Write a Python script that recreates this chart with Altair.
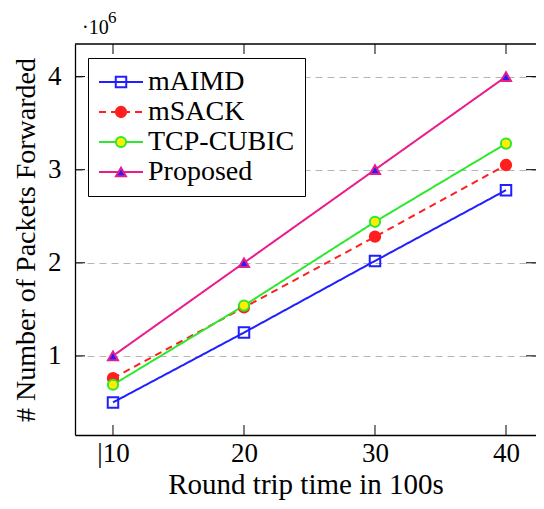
import altair as alt
import pandas as pd

# ---- data ----
rtt = [10, 20, 30, 40]
maimd = [500000, 1250000, 2020000, 2780000]
msack = [760000, 1520000, 2280000, 3050000]
cubic = [690000, 1540000, 2440000, 3280000]
proposed = [1000000, 2000000, 3000000, 4000000]
series_names = ["mAIMD", "mSACK", "TCP-CUBIC", "Proposed"]
y_ticks = [1000000, 2000000, 3000000, 4000000]

rows = []
for name, vals in zip(series_names, [maimd, msack, cubic, proposed]):
    for x, v in zip(rtt, vals):
        rows.append({"rtt": x, "packets": v, "series": name})
df = pd.DataFrame(rows)

# ---- styles ----
W, H = 461, 391
FONT = "Liberation Serif"
FS = 27
TFS = 29
line_colors = ["#1f1fff", "#ff1f1f", "#2ee82e", "#e81c8c"]
fills = ["transparent", "#ff1f1f", "#ffee00", "#1f1fff"]
strokes = ["#1f1fff", "#ff1f1f", "#2ee82e", "#e81c8c"]
shapes = ["square", "circle", "circle", "triangle-up"]
sizes = [110, 100, 240, 230]
dashes = [[1, 0], [7, 5], [1, 0], [1, 0]]

xs = alt.Scale(domain=[7.1, 42.29], nice=False)
ys = alt.Scale(domain=[150000, 4350000], nice=False)

common_leg = dict(
    title=None, orient="none", legendX=13, legendY=14, padding=10,
    labelFont=FONT, labelFontSize=28, labelColor="black", labelOffset=13,
    symbolSize=196, symbolStrokeWidth=2, symbolOffset=9, rowPadding=2,
    cornerRadius=0, values=series_names,
)
legend_lines = alt.Legend(
    fillColor="white", strokeColor="black", symbolType="M-3.14,0L3.14,0",
    zindex=0, **common_leg)
legend_marks = alt.Legend(labelOpacity=0, symbolFillColor="white", zindex=1, **common_leg)

# the line legend gets an extra (unused) domain entry so it stays separate
# from the marker legend, which is drawn over it
line_domain = series_names + ["~"]

x_axis = alt.Axis(
    values=rtt, labelExpr="datum.value == 10 ? '|10' : datum.label",
    grid=False, ticks=False, domain=True, domainColor="black", domainWidth=1.3,
    labelFont=FONT, labelFontSize=FS, labelColor="black", labelPadding=5,
    title="Round trip time in 100s", titleFont=FONT, titleFontSize=TFS,
    titleFontWeight="normal", titleColor="black", titlePadding=4,
)
y_axis = alt.Axis(
    values=y_ticks, labelExpr="format(datum.value / 1000000, 'd')",
    grid=True, gridDash=[7, 5], gridColor="#b5b5b5", gridWidth=1,
    ticks=False, domain=True, domainColor="black", domainWidth=1.3,
    labelFont=FONT, labelFontSize=FS, labelColor="black", labelPadding=14,
    title="# Number of Packets Forwarded", titleFont=FONT, titleFontSize=28,
    titleFontWeight="normal", titleColor="black", titlePadding=7,
)

base = alt.Chart(df)
lines = base.mark_line(strokeWidth=2).encode(
    x=alt.X("rtt:Q", scale=xs, axis=x_axis),
    y=alt.Y("packets:Q", scale=ys, axis=y_axis),
    color=alt.Color("series:N", scale=alt.Scale(domain=line_domain, range=line_colors + ["#000000"]),
                    legend=legend_lines),
    strokeDash=alt.StrokeDash("series:N", scale=alt.Scale(domain=line_domain, range=dashes + [[1, 0]]),
                              legend=legend_lines),
)
points = base.mark_point(opacity=1, strokeWidth=2).encode(
    x=alt.X("rtt:Q", scale=xs, axis=x_axis),
    y=alt.Y("packets:Q", scale=ys, axis=y_axis),
    shape=alt.Shape("series:N", scale=alt.Scale(domain=series_names, range=shapes), legend=legend_marks),
    fill=alt.Fill("series:N", scale=alt.Scale(domain=series_names, range=fills), legend=legend_marks),
    stroke=alt.Stroke("series:N", scale=alt.Scale(domain=series_names, range=strokes), legend=legend_marks),
    size=alt.Size("series:N", scale=alt.Scale(domain=series_names, range=sizes), legend=legend_marks),
)

xt = alt.Chart(pd.DataFrame({"rtt": rtt}))
yt = alt.Chart(pd.DataFrame({"packets": y_ticks}))
tick_top = xt.mark_rule(color="black", strokeWidth=1).encode(
    x=alt.X("rtt:Q", scale=xs, axis=x_axis), y=alt.value(0), y2=alt.value(10))
tick_bot = xt.mark_rule(color="black", strokeWidth=1).encode(
    x=alt.X("rtt:Q", scale=xs, axis=x_axis), y=alt.value(H), y2=alt.value(H - 10))
tick_left = yt.mark_rule(color="black", strokeWidth=1).encode(
    y=alt.Y("packets:Q", scale=ys, axis=y_axis), x=alt.value(0), x2=alt.value(10))
tick_right = yt.mark_rule(color="black", strokeWidth=1).encode(
    y=alt.Y("packets:Q", scale=ys, axis=y_axis), x=alt.value(W - 10), x2=alt.value(W))
top_border = alt.Chart(pd.DataFrame({"b": [0]})).mark_rule(color="black", strokeWidth=1.3).encode(
    x=alt.value(0), x2=alt.value(W), y=alt.value(0))

exp_base = alt.Chart(pd.DataFrame({"s": ["\u00b710"]})).mark_text(
    align="left", baseline="alphabetic", font=FONT, fontSize=20, color="black", x=7, y=-10
).encode(text="s:N")
exp_sup = alt.Chart(pd.DataFrame({"s": ["6"]})).mark_text(
    align="left", baseline="alphabetic", font=FONT, fontSize=17, color="black", x=33, y=-21
).encode(text="s:N")

chart = alt.layer(
    lines, points, tick_top, tick_bot, tick_left, tick_right, top_border, exp_base, exp_sup
).properties(
    width=W, height=H,
    padding={"left": 67, "top": 36, "right": 0, "bottom": 66},
    autosize=alt.AutoSizeParams(type="none"),
).configure(
    background="white"
).configure_view(
    strokeWidth=0
)

chart.save("out.html", embed_options={"renderer": "svg", "actions": False})
